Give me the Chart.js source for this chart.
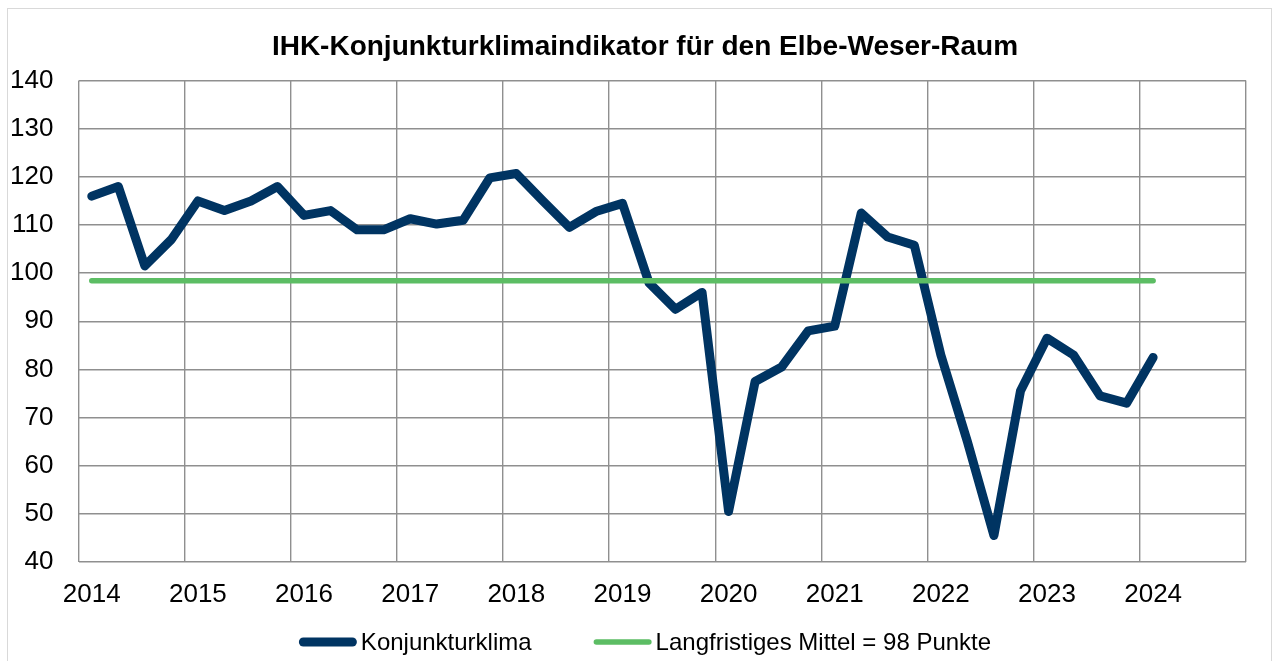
<!DOCTYPE html>
<html lang="de">
<head>
<meta charset="utf-8">
<title>IHK-Konjunkturklimaindikator</title>
<script src="https://cdn.jsdelivr.net/npm/chart.js@4.4.1/dist/chart.umd.min.js"></script>
<style>
  html, body { margin: 0; padding: 0; background: #fff; }
  body { width: 1274px; height: 661px; position: relative; overflow: hidden; }
  .frame {
    position: absolute; left: 7px; top: 8px; width: 1265px; height: 700px;
    border: 1px solid #d9d9d9; box-sizing: border-box;
  }
  canvas { position: absolute; left: 0; top: 0; }
</style>
</head>
<body>
<div class="frame"></div>
<canvas id="chart" width="1274" height="661"></canvas>
<script>
/* ---------------------------------------------------------------- *
 * Data: quarterly survey, 2014 Q1 .. 2024 Q1 (axis runs to 2024 Q4)
 * ---------------------------------------------------------------- */
const YEARS = ["2014", "2015", "2016", "2017", "2018", "2019",
               "2020", "2021", "2022", "2023", "2024"];
const QUARTERS = ["Q1", "Q2", "Q3", "Q4"];

const KONJUNKTURKLIMA = [
  116, 118, 101.5, 107,       // 2014
  115, 113, 115, 118,         // 2015
  112, 113, 109, 109,         // 2016
  111.3, 110.2, 111, 119.8,   // 2017
  120.7, 115, 109.5, 112.8,   // 2018
  114.5, 98, 92.5, 96,        // 2019
  50.5, 77.5, 80.5, 88,       // 2020
  89, 112.5, 107.5, 105.8,    // 2021
  83, 65, 45.5, 75.5,         // 2022
  86.5, 83, 74.5, 73,         // 2023
  82.5,                       // 2024
];

const LANGFRISTIGES_MITTEL = [
  98.4, 98.4, 98.4, 98.4, 98.4, 98.4, 98.4, 98.4, 98.4, 98.4,
  98.4, 98.4, 98.4, 98.4, 98.4, 98.4, 98.4, 98.4, 98.4, 98.4,
  98.4, 98.4, 98.4, 98.4, 98.4, 98.4, 98.4, 98.4, 98.4, 98.4,
  98.4, 98.4, 98.4, 98.4, 98.4, 98.4, 98.4, 98.4, 98.4, 98.4,
  98.4,
];

const Y_MIN = 40;
const Y_MAX = 140;
const Y_STEP = 10;

// category labels, one per quarter
const labels = [];
YEARS.forEach((y) => QUARTERS.forEach((q) => labels.push(`${y} ${q}`)));

const FONT = '"Liberation Sans", Arial, Helvetica, sans-serif';
const GRID = "#8f8f8f";
const NAVY = "#003462";
const GREEN = "#5cbd64";

/* Title sits a bit right of the canvas centre in the original; nudge the
   title block after layout instead of fighting the layout engine. */
const titleShift = {
  id: "titleShift",
  afterLayout(chart, args, opts) {
    const t = chart.titleBlock;
    if (t) { t.left = opts.left; t.right = opts.right; }
  },
};

/* Legend drawn by hand: a thick round-capped stroke per dataset, centered
   below the axis (the built-in legend can't do two stroke widths). */
const bottomLegend = {
  id: "bottomLegend",
  afterDraw(chart, args, opts) {
    const ctx = chart.ctx;
    const swatch = 58, gapText = 4, gapItem = 62;
    ctx.save();
    ctx.font = `24px ${FONT}`;
    ctx.textBaseline = "middle";
    const items = chart.data.datasets.map((ds) => ({
      label: ds.label,
      color: ds.borderColor,
      width: ds.borderWidth,
      tw: ctx.measureText(ds.label).width,
    }));
    const total = items.reduce((s, it) => s + swatch + gapText + it.tw, 0)
      + gapItem * (items.length - 1);
    let x = opts.centerX - total / 2;
    const y = opts.y;
    for (const it of items) {
      const r = it.width / 2;
      ctx.beginPath();
      ctx.lineCap = "round";
      ctx.lineWidth = it.width;
      ctx.strokeStyle = it.color;
      ctx.moveTo(x + r, y);
      ctx.lineTo(x + swatch - r, y);
      ctx.stroke();
      ctx.fillStyle = "#000";
      ctx.fillText(it.label, x + swatch + gapText, y + 1);
      x += swatch + gapText + it.tw + gapItem;
    }
    ctx.restore();
  },
};

new Chart(document.getElementById("chart"), {
  type: "line",
  data: {
    labels,
    datasets: [
      {
        label: "Konjunkturklima",
        data: KONJUNKTURKLIMA,
        borderColor: NAVY,
        borderWidth: 9,
        borderCapStyle: "round",
        borderJoinStyle: "round",
        pointRadius: 0,
        tension: 0,
        order: 1,
      },
      {
        label: "Langfristiges Mittel = 98 Punkte",
        data: LANGFRISTIGES_MITTEL,
        borderColor: GREEN,
        borderWidth: 5.5,
        borderCapStyle: "round",
        pointRadius: 0,
        tension: 0,
        order: 0,   // drawn on top of the navy line
      },
    ],
  },
  plugins: [titleShift, bottomLegend],
  options: {
    responsive: false,
    animation: false,
    devicePixelRatio: 1,
    layout: { padding: { top: 0, left: 0, right: 0, bottom: 49 } },
    plugins: {
      legend: { display: false },
      tooltip: { enabled: false },
      title: {
        display: true,
        text: "IHK-Konjunkturklimaindikator für den Elbe-Weser-Raum",
        color: "#000",
        font: { family: FONT, size: 28, weight: "bold", lineHeight: 1.2 },
        padding: { top: 30, bottom: 17 },
      },
      titleShift: { left: 16, right: 1274 },
      bottomLegend: { centerX: 645, y: 642 },
    },
    scales: {
      x: {
        type: "category",
        offset: true,
        border: { display: false },
        grid: {
          offset: true,
          drawTicks: false,
          lineWidth: 1.4,
          // a line at each year boundary plus the closing right edge
          color: (c) => (c.type !== "tick" || c.index % 4 === 0) ? GRID : "rgba(0,0,0,0)",
        },
        ticks: {
          autoSkip: false,
          maxRotation: 0,
          minRotation: 0,
          padding: 17,
          color: "#000",
          font: { family: FONT, size: 26 },
          callback: (v, i) => (i % 4 === 0 ? YEARS[i / 4] : ""),
        },
        afterFit: (s) => { s.height = 50; },
      },
      y: {
        min: Y_MIN,
        max: Y_MAX,
        border: { display: false },
        grid: { color: GRID, lineWidth: 1.4, drawTicks: false },
        ticks: {
          stepSize: Y_STEP,
          padding: 25,
          color: "#000",
          font: { family: FONT, size: 26 },
        },
        afterFit: (s) => { s.width = 78.5; },
      },
      // empty right-hand axis: reserves the margin right of the plot
      yRight: {
        position: "right",
        display: true,
        border: { display: false },
        grid: { display: false, drawTicks: false },
        ticks: { display: false },
        afterFit: (s) => { s.width = 28; },
      },
    },
  },
});
</script>
</body>
</html>
